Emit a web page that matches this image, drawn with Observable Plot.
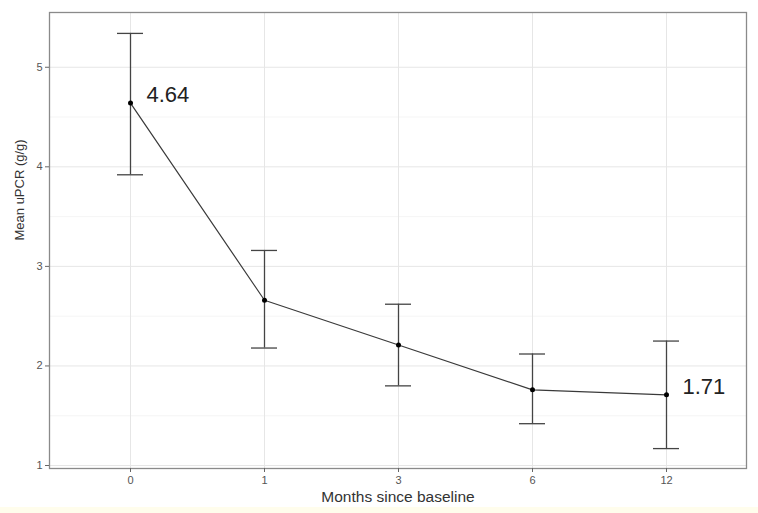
<!DOCTYPE html>
<html><head><meta charset="utf-8">
<script src="https://cdn.jsdelivr.net/npm/d3@7"></script>
<script src="https://cdn.jsdelivr.net/npm/@observablehq/plot@0.6"></script>
<style>
body{margin:0;background:#fff;}
#strip{height:6px;background:#fffdec;}
</style>
</head><body>
<div id="chart"></div><div id="strip"></div>
<script>
const months = ["0","1","3","6","12"];
const means = [4.64, 2.66, 2.21, 1.76, 1.71];
const lowers = [3.92, 2.18, 1.80, 1.42, 1.17];
const uppers = [5.34, 3.16, 2.62, 2.12, 2.25];
const labelMonths = ["0","12"];
const labelTexts = ["4.64","1.71"];
const yTicks = [1,2,3,4,5];
const yMinor = [1.5,2.5,3.5,4.5];

const data = months.map((m,i)=>({m, mean: means[i], lo: lowers[i], hi: uppers[i]}));
const labels = labelMonths.map((m,i)=>({m, y: means[months.indexOf(m)], t: labelTexts[i]}));

const plot = Plot.plot({
  width: 758, height: 507,
  marginLeft: 49, marginRight: 12, marginTop: 12, marginBottom: 39,
  style: {fontFamily: "Liberation Sans, Arial, sans-serif", background: "#fff"},
  x: {type: "point", domain: months, padding: 0.6, label: null, axis: null},
  y: {domain: [0.97, 5.55], label: null, axis: null},
  marks: [
    Plot.ruleY(yMinor, {stroke: "#f3f3f3", strokeWidth: 0.8}),
    Plot.ruleY(yTicks, {stroke: "#e6e6e6", strokeWidth: 1}),
    Plot.ruleX(months, {x: d=>d, stroke: "#e6e6e6", strokeWidth: 1}),
    Plot.frame({stroke: "#8a8a8a", strokeWidth: 1.3}),
    Plot.axisY(yTicks, {tickSize: 4, tickPadding: 3, stroke: "#666", fill: "#555", fontSize: 11, tickFormat: d3.format("d"), label: null}),
    Plot.axisX(months, {tickSize: 4, tickPadding: 4, stroke: "#666", fill: "#555", fontSize: 11, label: null}),
    Plot.ruleX(data, {x: "m", y1: "lo", y2: "hi", stroke: "#444", strokeWidth: 1.3}),
    Plot.ruleY(data, {x1: "m", x2: "m", y: "lo", insetLeft: -13, insetRight: -13, stroke: "#444", strokeWidth: 1.3}),
    Plot.ruleY(data, {x1: "m", x2: "m", y: "hi", insetLeft: -13, insetRight: -13, stroke: "#444", strokeWidth: 1.3}),
    Plot.line(data, {x: "m", y: "mean", stroke: "#3a3a3a", strokeWidth: 1.2}),
    Plot.dot(data, {x: "m", y: "mean", r: 2.5, fill: "#000", stroke: null}),
    Plot.text(labels, {x: "m", y: "y", text: "t", dx: 16, dy: -8, textAnchor: "start", fontSize: 22, fill: "#222"}),
    Plot.text(["Months since baseline"], {frameAnchor: "bottom", dy: 33, fontSize: 15.5, fill: "#333"}),
    Plot.text(["Mean uPCR (g/g)"], {frameAnchor: "left", dx: -30, rotate: -90, fontSize: 13, fill: "#333"})
  ]
});
document.getElementById("chart").appendChild(plot);
</script>
</body></html>
